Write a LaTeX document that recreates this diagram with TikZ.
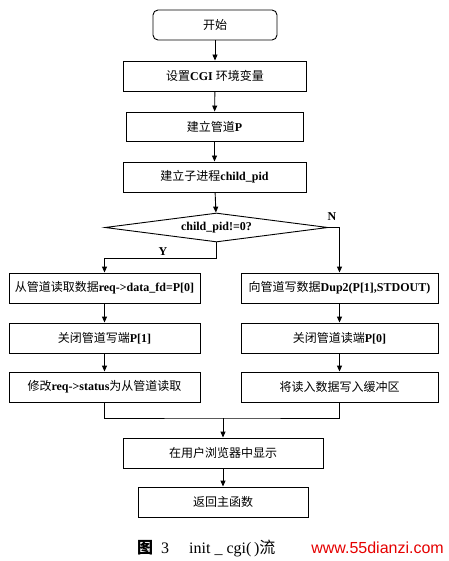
\documentclass[tikz,border=0pt]{standalone}
\usepackage{fontspec}
\setmainfont{Liberation Serif}
\newfontfamily\cjk{Noto Sans CJK SC}
\newfontfamily\wmfont{Liberation Sans}
\usetikzlibrary{arrows.meta,shapes.geometric}
\newcommand\zh[1]{{\cjk\mdseries #1}}

\begin{document}
\begin{tikzpicture}[x=1pt,y=-1pt,
  box/.style={draw, line width=0.9pt, minimum height=30pt, inner sep=1pt, font=\fontsize{12}{14}\selectfont\bfseries},
  arr/.style={-{Triangle[length=6pt,width=5pt]}, line width=0.9pt},
  lbl/.style={font=\fontsize{12}{14}\selectfont\bfseries}]
\useasboundingbox (0,0) rectangle (448,561);
% main column
\node[box, rounded corners=5pt, minimum width=124pt] (start) at (215,25) {\zh{开始}};
\node[box, minimum width=183pt] (env) at (215,76) {\zh{设置}CGI \zh{环境变量}};
\node[box, minimum width=177pt, minimum height=29pt] (pipe) at (214.5,126.5) {\zh{建立管道}P};
\node[box, minimum width=183pt] (fork) at (214.5,177) {\zh{建立子进程}child\_pid};
% decision
\node[draw, diamond, line width=0.9pt, aspect=7.7, inner sep=0pt, minimum width=223pt, minimum height=29pt, lbl] (test) at (216.5,227.5) {child\_pid!=0?};
% parent branch (Y)
\node[box, minimum width=191pt] (rd) at (104.5,288) {\zh{从管道读取数据}req->data\_fd=P[0]};
\node[box, minimum width=191pt] (cw) at (104.5,338) {\zh{关闭管道写端}P[1]};
\node[box, minimum width=191pt] (st) at (104.5,387) {\zh{修改}req->status\zh{为从管道读取}};
% child branch (N)
\node[box, minimum width=197pt] (wr) at (339.5,288) {\zh{向管道写数据}Dup2(P[1],STDOUT)};
\node[box, minimum width=197pt] (cr) at (339.5,338) {\zh{关闭管道读端}P[0]};
\node[box, minimum width=197pt] (buf) at (339.5,387) {\zh{将读入数据写入缓冲区}};
% tail
\node[box, minimum width=200pt] (show) at (223,453) {\zh{在用户浏览器中显示}};
\node[box, minimum width=170pt] (ret) at (223,502) {\zh{返回主函数}};
\coordinate (join) at (223,418);
% connectors
\foreach \a/\b in {start/env,env/pipe,pipe/fork,fork/test,rd/cw,cw/st,wr/cr,cr/buf,show/ret} {
  \draw[arr] (\a) -- (\b);
}
\draw[arr] (test.south) -- ++(0,16) coordinate (ybend) -| (rd.north);
\draw[arr] (test.east) -| (wr.north);
\node[lbl] (ylab) at (163,252) {Y};
\node[lbl] (nlab) at (332,217) {N};
\draw[line width=0.9pt] (st.south) |- (join) -| (buf.south);
\draw[arr] (join) -- (show.north);
% caption
\node[font=\fontsize{16}{18}\selectfont, anchor=west, inner sep=0pt] (cap) at (137,548) {\zh{\bfseries 图}\ \ 3\quad\ init\ \_\ cgi(\,)\zh{流}};
\node[font=\wmfont\fontsize{16}{18}\selectfont, text=red!90!black, anchor=east, inner sep=0pt] (wm) at (444,548) {www.55dianzi.com};
\end{tikzpicture}
\end{document}
